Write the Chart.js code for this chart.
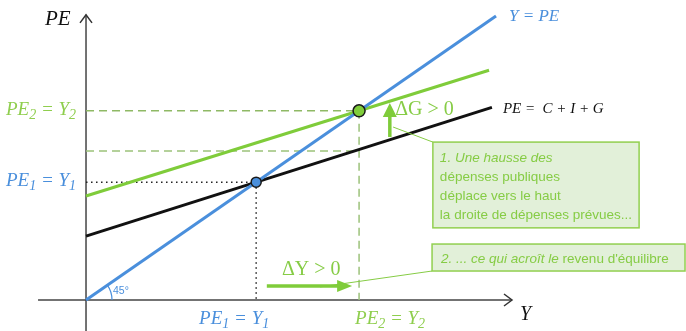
<!DOCTYPE html>
<html>
<head>
<meta charset="utf-8">
<script src="https://cdn.jsdelivr.net/npm/chart.js@4/dist/chart.umd.min.js"></script>
<style>
  body { margin: 0; background: #fff; }
  canvas { display: block; }
</style>
</head>
<body>
<canvas id="cross" width="686" height="331"></canvas>
<script>
// values (income Y on x, planned expenditure PE on y)
const lineX = [0, 100];          // Y = PE (45 degree line)
const lineY = [0, 100];
const peOldX = [0, 99];          // PE = C + I + G
const peOld = [22.5, 67.8];
const peNewX = [0, 98.3];        // PE after the rise in G
const peNew = [36.6, 80.9];
const Y1 = 41.5;                 // first equilibrium
const Y2 = 66.6;                 // new equilibrium
const peOldAtY2 = 52.5;          // old PE line read at Y2
const xAxisEnds = [-11.7, 103.9];
const yAxisEnds = [-11, 100.4];

const BLUE = '#4a8fdc';
const GREEN = '#7fcc3a';
const TXTGREEN = '#86cc45';
const DASHGREEN = '#8fb965';

function pts(xs, ys) {
    return xs.map((x, i) => ({ x: x, y: ys[i] }));
}

function seg(data, color, width, dash) {
    return {
        data: data,
        showLine: true,
        borderColor: color,
        borderWidth: width,
        borderDash: dash || [],
        pointRadius: 0,
        fill: false,
        clip: false
    };
}

// listed bottom to top; reversed below since Chart.js paints dataset 0 last
let datasets = [
    // axes
    seg([{ x: xAxisEnds[0], y: 0 }, { x: xAxisEnds[1], y: 0 }], '#444', 1.5),
    seg([{ x: 0, y: yAxisEnds[0] }, { x: 0, y: yAxisEnds[1] }], '#444', 1.5),
    // guide lines
    seg([{ x: 0, y: Y2 }, { x: Y2, y: Y2 }], DASHGREEN, 1.5, [8, 5]),
    seg([{ x: 0, y: peOldAtY2 }, { x: Y2, y: peOldAtY2 }], '#9cc27a', 1.5, [8, 5]),
    seg([{ x: Y2, y: Y2 }, { x: Y2, y: 0 }], '#9cc27a', 1.5, [8, 5]),
    seg([{ x: 0, y: Y1 }, { x: Y1, y: Y1 }], '#222', 1.5, [1.5, 3.5]),
    seg([{ x: Y1, y: Y1 }, { x: Y1, y: 0 }], '#222', 1.5, [1.5, 3.5]),
    // main lines
    seg(pts(peOldX, peOld), '#111', 3),
    seg(pts(peNewX, peNew), GREEN, 3),
    seg(pts(lineX, lineY), BLUE, 3),
    // equilibrium points
    {
        data: [{ x: Y1, y: Y1 }],
        pointRadius: 5,
        pointBackgroundColor: BLUE,
        pointBorderColor: '#1a1a1a',
        pointBorderWidth: 1.5,
        showLine: false,
        clip: false
    },
    {
        data: [{ x: Y2, y: Y2 }],
        pointRadius: 6,
        pointBackgroundColor: GREEN,
        pointBorderColor: '#1a1a1a',
        pointBorderWidth: 1.5,
        showLine: false,
        clip: false
    }
].reverse();

// draws "PE" + sub "2" + " = Y" + sub "2" style labels
function mathLabel(ctx, parts, x, y, size, color, align) {
    let big = `italic ${size}px "Liberation Serif", "DejaVu Serif", serif`;
    let small = `italic ${Math.round(size * 0.72)}px "Liberation Serif", "DejaVu Serif", serif`;
    let w = 0;
    parts.forEach(p => {
        ctx.font = p[1] ? small : big;
        w += ctx.measureText(p[0]).width;
    });
    let cx = align === 'right' ? x - w : align === 'center' ? x - w / 2 : x;
    ctx.fillStyle = color;
    ctx.textBaseline = 'alphabetic';
    ctx.textAlign = 'left';
    parts.forEach(p => {
        ctx.font = p[1] ? small : big;
        ctx.fillText(p[0], cx, p[1] ? y + size * 0.2 : y);
        cx += ctx.measureText(p[0]).width;
    });
}

function arrowHead(ctx, tx, ty, dx, dy, len, half, color) {
    // filled triangle pointing along (dx, dy)
    let bx = tx - dx * len, by = ty - dy * len;
    ctx.beginPath();
    ctx.moveTo(tx, ty);
    ctx.lineTo(bx - dy * half, by + dx * half);
    ctx.lineTo(bx + dy * half, by - dx * half);
    ctx.closePath();
    ctx.fillStyle = color;
    ctx.fill();
}

function chevron(ctx, tx, ty, dx, dy) {
    let bx = tx - dx * 8, by = ty - dy * 8;
    ctx.beginPath();
    ctx.moveTo(bx - dy * 6, by + dx * 6);
    ctx.lineTo(tx, ty);
    ctx.lineTo(bx + dy * 6, by - dx * 6);
    ctx.strokeStyle = '#333';
    ctx.lineWidth = 1.5;
    ctx.stroke();
}

const annotations = {
    id: 'annotations',
    afterDatasetsDraw(chart) {
        let ctx = chart.ctx;
        let sx = v => chart.scales.x.getPixelForValue(v);
        let sy = v => chart.scales.y.getPixelForValue(v);
        ctx.save();

        // axis arrowheads
        chevron(ctx, sx(0), sy(yAxisEnds[1]), 0, -1);
        chevron(ctx, sx(xAxisEnds[1]), sy(0), 1, 0);

        // 45 degree arc
        let ang = Math.atan2(sy(0) - sy(lineY[1]), sx(lineX[1]) - sx(0));
        ctx.beginPath();
        ctx.arc(sx(0), sy(0), 26, -ang, 0);
        ctx.strokeStyle = BLUE;
        ctx.lineWidth = 1.2;
        ctx.stroke();
        ctx.font = '10.5px "Liberation Sans", Arial, sans-serif';
        ctx.fillStyle = BLUE;
        ctx.textAlign = 'left';
        ctx.textBaseline = 'middle';
        ctx.fillText('45°', sx(0) + 27, sy(0) - 9);

        // connector lines to the notes
        ctx.strokeStyle = TXTGREEN;
        ctx.lineWidth = 1;
        ctx.beginPath();
        ctx.moveTo(sx(74.9), sy(60.9));
        ctx.lineTo(sx(84.6), sy(55.6));
        ctx.moveTo(sx(84.4), sy(10.2));
        ctx.lineTo(sx(57.1), sy(4.6));
        ctx.stroke();

        // delta G arrow
        ctx.strokeStyle = GREEN;
        ctx.lineWidth = 3.5;
        ctx.beginPath();
        ctx.moveTo(sx(74.1), sy(57.4));
        ctx.lineTo(sx(74.1), sy(65));
        ctx.stroke();
        arrowHead(ctx, sx(74.1), sy(69.4), 0, -1, 14, 7, GREEN);

        // delta Y arrow
        ctx.beginPath();
        ctx.moveTo(sx(44.1), sy(4.9));
        ctx.lineTo(sx(62), sy(4.9));
        ctx.stroke();
        arrowHead(ctx, sx(64.9), sy(4.9), 1, 0, 15, 6, GREEN);

        // note boxes
        ctx.fillStyle = '#e2f0d9';
        ctx.strokeStyle = '#92d050';
        ctx.lineWidth = 1.5;
        let b1 = [sx(84.6), sy(55.6), sx(134.9), sy(25.4)];
        let b2 = [sx(84.4), sy(19.7), sx(146.1), sy(10.2)];
        [b1, b2].forEach(b => {
            ctx.fillRect(b[0], b[1], b[2] - b[0], b[3] - b[1]);
            ctx.strokeRect(b[0], b[1], b[2] - b[0], b[3] - b[1]);
        });
        let sans = '13.5px "Liberation Sans", Arial, sans-serif';
        let sansIt = 'italic 13.5px "Liberation Sans", Arial, sans-serif';
        ctx.fillStyle = TXTGREEN;
        ctx.textBaseline = 'middle';
        ctx.font = sansIt;
        ctx.fillText('1. Une hausse des', b1[0] + 7, b1[1] + 16);
        ctx.font = sans;
        ctx.fillText('dépenses publiques', b1[0] + 7, b1[1] + 35);
        ctx.fillText('déplace vers le haut', b1[0] + 7, b1[1] + 54);
        ctx.fillText('la droite de dépenses prévues...', b1[0] + 7, b1[1] + 73);
        ctx.font = sansIt;
        let t2 = '2. ... ce qui acroît le ';
        ctx.fillText(t2, b2[0] + 9, b2[1] + 15);
        let w2 = ctx.measureText(t2).width;
        ctx.font = sans;
        ctx.fillText('revenu d\'équilibre', b2[0] + 9 + w2, b2[1] + 15);

        // delta labels
        ctx.font = '20px "Liberation Serif", "DejaVu Serif", serif';
        ctx.fillStyle = TXTGREEN;
        ctx.textBaseline = 'alphabetic';
        ctx.fillText('ΔG > 0', sx(75.4), sy(Y2) + 4);
        ctx.fillText('ΔY > 0', sx(47.8), sy(4.9) - 11);

        // axis titles and line names
        mathLabel(ctx, [['PE', false]], sx(0) - 41, 25, 21, '#111', 'left');
        mathLabel(ctx, [['Y', false]], sx(xAxisEnds[1]) + 8, sy(0) + 20, 20, '#111', 'left');
        mathLabel(ctx, [['Y = PE', false]], sx(lineX[1]) + 13, 21, 17, BLUE, 'left');
        mathLabel(ctx, [['PE =  C + I + G', false]], sx(peOldX[1]) + 11, sy(peOld[1]) + 6, 15, '#111', 'left');

        // equilibrium labels
        mathLabel(ctx, [['PE', false], ['2', true], [' = Y', false], ['2', true]], sx(0) - 10, sy(Y2) + 4, 19, '#8fce4e', 'right');
        mathLabel(ctx, [['PE', false], ['1', true], [' = Y', false], ['1', true]], sx(0) - 10, sy(Y1) + 4, 19, BLUE, 'right');
        mathLabel(ctx, [['PE', false], ['1', true], [' = Y', false], ['1', true]], sx(Y1) - 22, sy(0) + 24, 19, BLUE, 'center');
        mathLabel(ctx, [['PE', false], ['2', true], [' = Y', false], ['2', true]], sx(Y2) + 31, sy(0) + 24, 19, '#8fce4e', 'center');

        ctx.restore();
    }
};

new Chart(document.getElementById('cross'), {
    type: 'scatter',
    data: { datasets: datasets },
    options: {
        responsive: false,
        animation: false,
        layout: { padding: 0, autoPadding: false },
        scales: {
            x: { type: 'linear', display: false, min: -20.98, max: 146.34 },
            y: { type: 'linear', display: false, min: -10.92, max: 105.63 }
        },
        plugins: {
            legend: { display: false },
            tooltip: { enabled: false }
        }
    },
    plugins: [annotations]
});
</script>
</body>
</html>
